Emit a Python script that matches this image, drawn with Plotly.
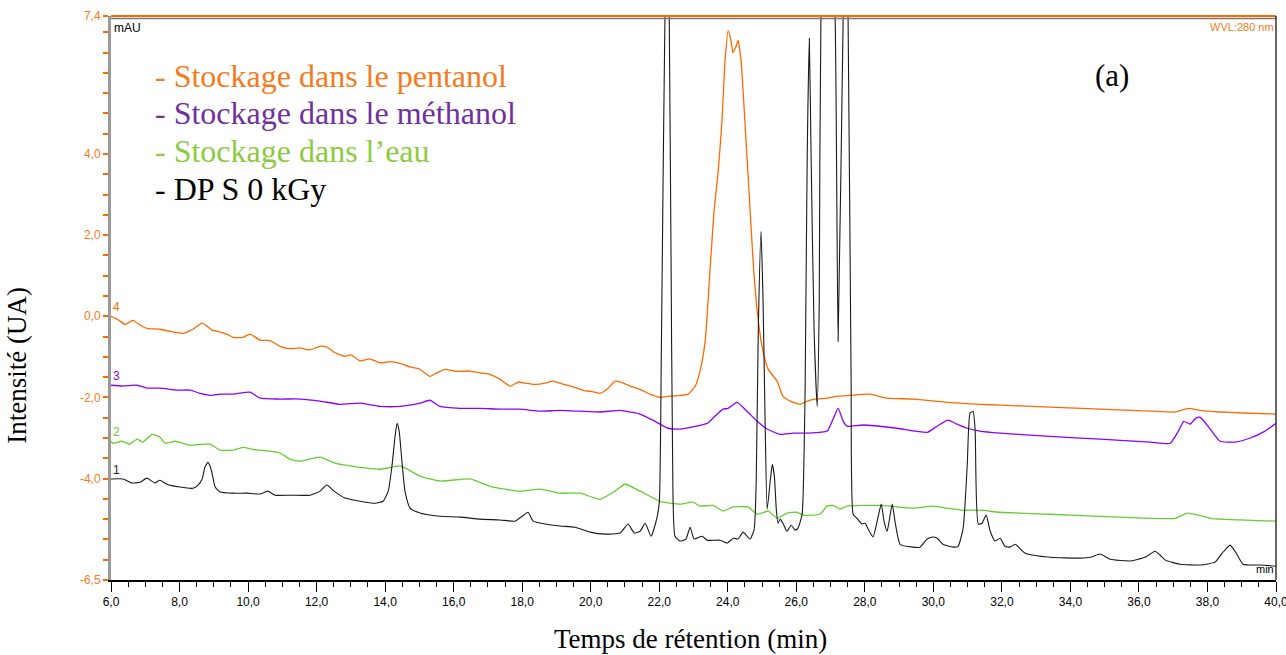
import plotly.graph_objects as go

# ---------------- data (retention time in min, intensity in mAU) ----------------
pent_t = [6.0,6.2,6.41,6.64,6.85,7.05,7.43,7.72,8.10,8.39,8.66,8.95,9.09,9.39,9.56,9.85,10.06,10.35,10.64,10.93,
          11.22,11.52,11.8,12.10,12.3,12.54,12.83,13.0,13.27,13.55,13.85,14.15,14.44,14.73,15.0,15.31,15.5,15.75,16.1,16.48,
          16.8,17.06,17.35,17.65,17.9,18.08,18.4,18.67,18.9,19.11,19.3,19.54,19.8,20.0,20.27,20.5,20.71,20.86,21.15,21.44,
          21.73,22.02,22.3,22.61,22.85,23.05,23.19,23.34,23.48,23.60,23.72,23.83,23.92,24.01,24.10,24.15,24.24,24.30,24.39,24.50,
          24.62,24.74,24.86,25.0,25.18,25.44,25.61,25.82,26.11,26.32,26.55,26.90,27.22,27.57,28.15,28.65,29.41,30.40,31.36,31.95,
          33.41,34.87,36.33,37.06,37.44,37.79,38.37,39.25,40.0]
pent_y = [0.0,-0.08,-0.20,-0.10,-0.22,-0.30,-0.32,-0.37,-0.42,-0.32,-0.17,-0.34,-0.37,-0.44,-0.52,-0.52,-0.44,-0.59,-0.60,-0.74,
          -0.80,-0.78,-0.83,-0.74,-0.76,-0.90,-0.99,-0.95,-1.10,-1.05,-1.15,-1.12,-1.16,-1.25,-1.30,-1.48,-1.40,-1.31,-1.36,-1.35,
          -1.40,-1.43,-1.55,-1.72,-1.62,-1.65,-1.68,-1.65,-1.60,-1.65,-1.70,-1.75,-1.83,-1.85,-1.90,-1.78,-1.60,-1.62,-1.72,-1.80,
          -1.92,-2.00,-1.97,-1.95,-1.92,-1.72,-1.35,-0.62,1.11,2.59,3.57,4.80,6.28,7.04,6.77,6.50,6.65,6.80,6.28,4.80,
          3.08,1.35,0.12,-0.74,-1.31,-1.60,-1.97,-2.09,-2.17,-2.09,-2.04,-2.02,-1.97,-1.95,-1.92,-2.02,-2.04,-2.12,-2.17,-2.19,
          -2.24,-2.29,-2.34,-2.36,-2.27,-2.32,-2.36,-2.39,-2.41]

meth_t = [6.0,6.35,6.76,7.05,7.43,7.93,8.31,8.60,8.95,9.18,9.56,10.06,10.35,10.93,11.52,12.10,12.68,13.27,13.85,14.44,
          15.02,15.31,15.60,16.19,16.77,17.35,17.94,18.52,19.11,19.69,20.27,20.86,21.15,21.44,21.88,22.26,22.61,23.40,23.57,23.86,
          24.01,24.27,24.56,24.86,25.15,25.53,25.91,26.32,26.90,27.07,27.22,27.37,27.48,27.95,28.94,29.82,30.11,30.43,30.69,30.99,
          31.36,31.95,33.41,34.87,36.33,36.91,37.15,37.31,37.49,37.66,37.79,38.08,38.37,38.81,39.25,39.68,40.0]
meth_y = [-1.70,-1.72,-1.70,-1.77,-1.77,-1.82,-1.82,-1.90,-1.95,-1.92,-1.92,-1.87,-2.02,-2.04,-2.04,-2.09,-2.17,-2.14,-2.22,-2.22,
          -2.14,-2.07,-2.22,-2.27,-2.27,-2.29,-2.29,-2.34,-2.32,-2.34,-2.36,-2.32,-2.36,-2.41,-2.59,-2.76,-2.78,-2.64,-2.51,-2.29,
          -2.27,-2.12,-2.34,-2.59,-2.78,-2.91,-2.88,-2.88,-2.83,-2.54,-2.27,-2.59,-2.71,-2.68,-2.76,-2.86,-2.71,-2.56,-2.66,-2.76,
          -2.83,-2.88,-2.96,-3.03,-3.10,-3.13,-2.83,-2.59,-2.66,-2.51,-2.49,-2.78,-3.08,-3.10,-3.00,-2.83,-2.64]

eau_t = [6.0,6.06,6.32,6.55,6.76,6.93,7.20,7.43,7.58,7.87,8.10,8.31,8.89,9.18,9.56,9.85,10.14,10.35,10.93,11.22,
         11.52,12.10,12.54,12.98,13.85,14.44,15.02,15.60,16.48,17.06,17.94,18.52,19.11,19.69,20.27,20.71,21.00,21.44,22.02,22.61,
         22.99,23.19,23.57,23.86,24.16,24.59,24.86,25.18,25.44,25.73,26.02,26.20,26.69,26.90,27.07,27.28,27.48,28.45,29.41,29.99,
         30.40,30.87,31.36,31.95,33.41,34.87,36.33,37.06,37.41,37.73,38.08,38.95,40.0]
eau_y = [-3.08,-3.13,-3.08,-3.15,-3.03,-3.10,-2.91,-2.98,-3.13,-3.08,-3.13,-3.18,-3.15,-3.30,-3.30,-3.23,-3.28,-3.30,-3.37,-3.52,
         -3.57,-3.47,-3.62,-3.69,-3.77,-3.69,-3.94,-4.06,-4.01,-4.19,-4.31,-4.26,-4.36,-4.36,-4.51,-4.31,-4.14,-4.31,-4.56,-4.63,
         -4.58,-4.68,-4.66,-4.80,-4.70,-4.70,-4.88,-4.80,-4.98,-4.85,-4.83,-4.90,-4.88,-4.68,-4.66,-4.75,-4.68,-4.66,-4.73,-4.68,
         -4.73,-4.78,-4.78,-4.83,-4.88,-4.93,-4.98,-4.98,-4.85,-4.90,-4.98,-5.02,-5.05]

dps_t = [6.0,6.35,6.61,6.85,7.05,7.28,7.43,7.63,8.01,8.39,
         8.54,8.66,8.74,8.83,8.89,8.95,9.04,9.18,9.56,9.97,
         10.35,10.58,10.79,11.22,11.81,12.10,12.30,12.51,12.83,13.27,
         13.71,13.94,14.09,14.20,14.29,14.35,14.41,14.49,14.58,14.73,
         15.02,15.60,16.19,16.77,17.35,17.79,18.00,18.17,18.32,18.67,
         19.11,19.54,19.98,20.42,20.86,21.09,21.27,21.44,21.59,21.76,
         21.91,22.00,22.06,22.12,22.17,22.23,22.29,22.34,22.39,22.46,
         22.61,22.78,22.90,23.02,23.25,23.40,23.78,23.98,24.16,24.30,
         24.45,24.65,24.77,24.83,24.89,24.97,25.03,25.09,25.15,25.24,
         25.30,25.36,25.42,25.47,25.53,25.62,25.73,25.85,25.97,26.05,
         26.17,26.23,26.26,26.32,26.38,26.43,26.52,26.61,26.67,26.72,
         26.92,27.13,27.22,27.37,27.44,27.51,27.60,27.66,27.77,27.92,
         28.01,28.10,28.24,28.36,28.48,28.56,28.65,28.71,28.80,28.88,
         29.03,29.41,29.61,29.82,29.99,30.11,30.28,30.58,30.72,30.87,
         30.99,31.07,31.16,31.22,31.31,31.42,31.54,31.66,31.80,31.95,
         32.09,32.24,32.39,32.68,33.41,34.28,34.58,34.87,35.16,35.75,
         36.18,36.33,36.47,36.62,36.77,37.20,37.79,38.22,38.43,38.66,
         38.84,39.04,39.54,40.0]
dps_y = [-4.01,-4.01,-4.11,-4.09,-3.99,-4.11,-4.04,-4.14,-4.21,-4.24,
         -4.16,-4.01,-3.72,-3.60,-3.69,-3.87,-4.21,-4.33,-4.36,-4.36,
         -4.38,-4.31,-4.41,-4.41,-4.41,-4.31,-4.16,-4.31,-4.48,-4.56,
         -4.61,-4.56,-4.31,-3.69,-2.96,-2.64,-2.83,-3.57,-4.31,-4.73,
         -4.85,-4.93,-4.95,-5.00,-5.02,-5.05,-4.93,-4.83,-5.05,-5.12,
         -5.17,-5.20,-5.32,-5.37,-5.34,-5.12,-5.34,-5.30,-5.10,-5.42,
         -5.05,-4.6,-1.0,4.0,7.6,12.0,7.6,2.0,-3.5,-5.42,
         -5.54,-5.49,-5.20,-5.49,-5.42,-5.52,-5.52,-5.59,-5.47,-5.49,
         -5.32,-5.49,-5.25,-4.06,-0.37,2.09,0.37,-2.59,-4.75,-4.06,
         -3.65,-3.94,-4.80,-5.10,-5.00,-5.12,-5.30,-5.15,-5.27,-5.22,
         -4.88,-3.25,-1.60,4.06,6.85,4.06,-0.37,-2.22,0.37,7.5,
         11.0,7.5,-0.62,7.5,10.0,7.5,-1.60,-4.88,-4.98,-5.12,
         -5.10,-5.25,-5.44,-5.05,-4.63,-5.05,-5.30,-5.05,-4.63,-5.05,
         -5.62,-5.69,-5.69,-5.49,-5.44,-5.47,-5.62,-5.69,-5.67,-5.22,
         -3.65,-2.39,-2.34,-2.83,-5.12,-5.10,-4.90,-5.30,-5.54,-5.47,
         -5.67,-5.69,-5.62,-5.84,-5.94,-5.96,-5.94,-5.86,-5.99,-6.03,
         -5.94,-5.86,-5.79,-5.89,-6.01,-6.11,-6.13,-6.06,-5.84,-5.64,
         -5.84,-6.11,-6.13,-6.16]

x_tickvals = [6, 8, 10, 12, 14, 16, 18, 20, 22, 24, 26, 28, 30, 32, 34, 36, 38, 40]
x_ticktext = ["6,0", "8,0", "10,0", "12,0", "14,0", "16,0", "18,0", "20,0", "22,0", "24,0",
              "26,0", "28,0", "30,0", "32,0", "34,0", "36,0", "38,0", "40,0"]
y_tickvals = [-6.5, -4.0, -2.0, 0.0, 2.0, 4.0, 7.4]
y_ticktext = ["-6,5", "-4,0", "-2,0", "0,0", "2,0", "4,0", "7,4"]

legend_labels = ["- Stockage dans le pentanol", "- Stockage dans le méthanol",
                 "- Stockage dans l’eau", "- DP S 0 kGy"]
trace_numbers = ["4", "3", "2", "1"]

# ---------------- styling ----------------
ORANGE = "#FF6A00"
PURPLE = "#8B00FF"
GREEN = "#66CC33"
BLACK = "#1a1a1a"
TXT_ORANGE = "#F47B20"
TXT_PURPLE = "#7030A0"
TXT_GREEN = "#8CCB3F"
NARROW = "Liberation Sans Narrow, Arial Narrow, Liberation Sans, Arial, sans-serif"
SERIF = "Liberation Serif, Times New Roman, serif"

series = [
    (pent_t, pent_y, ORANGE, 1.3),
    (meth_t, meth_y, PURPLE, 1.3),
    (eau_t, eau_y, GREEN, 1.3),
    (dps_t, dps_y, BLACK, 1.1),
]

fig = go.Figure()
for (t, y, col, w), name in zip(series, legend_labels):
    assert len(t) == len(y), name
    fig.add_trace(go.Scatter(x=t, y=y, mode="lines", name=name,
                             line=dict(color=col, width=w, shape="spline", smoothing=0.5),
                             hoverinfo="skip"))

x_minor = [6 + 0.5 * i for i in range(69) if (6 + 0.5 * i) % 2 != 0]
y_minor = [v / 2 for v in range(-12, 15) if (v / 2) not in y_tickvals]

fig.update_layout(
    width=1286, height=655,
    margin=dict(l=111, r=10, t=16, b=75, autoexpand=False),
    plot_bgcolor="white", paper_bgcolor="white",
    showlegend=False,
    xaxis=dict(range=[6, 40], tickmode="array", tickvals=x_tickvals, ticktext=x_ticktext,
               automargin=False, ticklabeloverflow="allow",
               ticks="outside", ticklen=10, tickwidth=1, tickcolor="black",
               showline=True, linecolor="black", linewidth=1.5,
               showgrid=False, zeroline=False,
               tickfont=dict(family=NARROW, size=12, color="black"),
               minor=dict(tickmode="array", tickvals=x_minor, ticks="outside", ticklen=5,
                          tickcolor="black", showgrid=False)),
    yaxis=dict(range=[-6.5, 7.4], tickmode="array", tickvals=y_tickvals, ticktext=y_ticktext,
               automargin=False, ticklabeloverflow="allow",
               ticks="outside", ticklen=5, tickwidth=1.5, tickcolor=ORANGE,
               showline=True, linecolor="#9a9a9a", linewidth=3,
               showgrid=False, zeroline=False,
               tickfont=dict(family=NARROW, size=12, color=TXT_ORANGE),
               minor=dict(tickmode="array", tickvals=y_minor, ticks="outside", ticklen=5,
                          tickcolor=ORANGE, showgrid=False)),
)

# frame: orange + gray top line, dark right border
fig.add_shape(type="line", xref="paper", yref="paper", x0=0, x1=1, y0=1.0, y1=1.0,
              line=dict(color=ORANGE, width=2))
fig.add_shape(type="line", xref="paper", yref="paper", x0=0, x1=1, y0=1 - 2.5 / 564, y1=1 - 2.5 / 564,
              line=dict(color="#777777", width=1.5))
fig.add_shape(type="line", xref="paper", yref="paper", x0=1, x1=1, y0=0, y1=1,
              line=dict(color="#333333", width=1.5))

# legend-like texts
leg_colors = [TXT_ORANGE, TXT_PURPLE, TXT_GREEN, "black"]
leg_y = [0.894, 0.828, 0.7606, 0.693]
for lab, c, yy in zip(legend_labels, leg_colors, leg_y):
    fig.add_annotation(text=lab, xref="paper", yref="paper", x=0.036, y=yy,
                       xanchor="left", yanchor="middle", showarrow=False,
                       font=dict(family=SERIF, size=32, color=c))
fig.add_annotation(text="(a)", xref="paper", yref="paper", x=0.859, y=0.894,
                   xanchor="center", yanchor="middle", showarrow=False,
                   font=dict(family=SERIF, size=31, color="black"))

# trace numbers
num_colors = [ORANGE, PURPLE, GREEN, BLACK]
for num, (t, y, _, _), c in zip(trace_numbers, series, num_colors):
    fig.add_annotation(text=num, x=t[0], y=y[0], xref="x", yref="y",
                       xanchor="left", yanchor="bottom", showarrow=False,
                       font=dict(family=NARROW, size=12, color=c))

# chromatogram labels
fig.add_annotation(text="mAU", xref="paper", yref="paper", x=0.001, y=0.995,
                   xanchor="left", yanchor="top", showarrow=False,
                   font=dict(family=NARROW, size=12, color="black"))
fig.add_annotation(text="WVL:280 nm", xref="paper", yref="paper", x=1.0, y=0.995,
                   xanchor="right", yanchor="top", showarrow=False,
                   font=dict(family=NARROW, size=11, color=TXT_ORANGE))
fig.add_annotation(text="min", xref="paper", yref="paper", x=1.0, y=0.005,
                   xanchor="right", yanchor="bottom", showarrow=False,
                   font=dict(family=NARROW, size=11, color="black"))

# axis titles
fig.add_annotation(text="Temps de rétention (min)", xref="paper", yref="paper", x=0.497, y=-0.104,
                   xanchor="center", yanchor="middle", showarrow=False,
                   font=dict(family=SERIF, size=27, color="black"))
fig.add_annotation(text="Intensité (UA)", xref="paper", yref="paper", x=-0.081, y=0.381,
                   xanchor="center", yanchor="middle", textangle=-90, showarrow=False,
                   font=dict(family=SERIF, size=27, color="black"))

fig.write_html("out.html", config={"displayModeBar": False},
               post_script="document.body.style.margin='0';")
